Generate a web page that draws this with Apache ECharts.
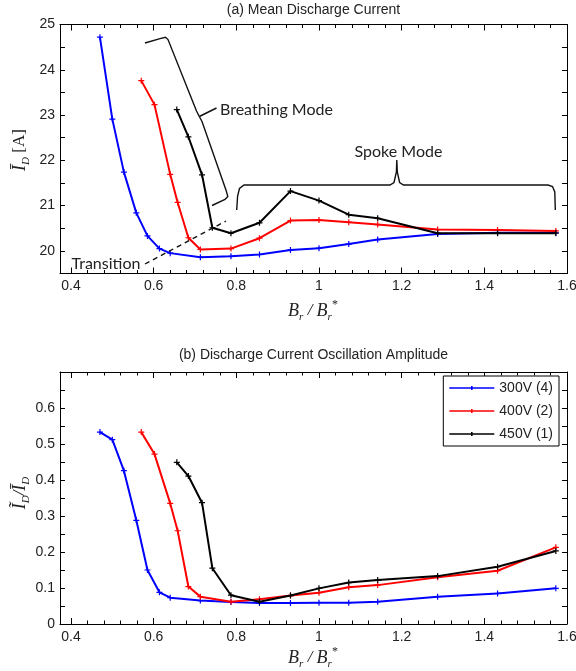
<!DOCTYPE html>
<html><head><meta charset="utf-8">
<script src="https://cdn.jsdelivr.net/npm/echarts@6/dist/echarts.min.js"></script>
<style>html,body{margin:0;padding:0;background:#fff}#c{width:576px;height:671px}</style>
</head><body><div id="c"></div>
<script>
// ---- data ----
const seriesNames = ['300V (4)', '400V (2)', '450V (1)'];
const xBlue  = [0.470,0.500,0.528,0.558,0.585,0.614,0.640,0.713,0.787,0.856,0.931,1.000,1.072,1.142,1.287,1.432,1.573];
const meanBlue = [24.72,22.91,21.74,20.84,20.33,20.05,19.95,19.86,19.88,19.92,20.02,20.06,20.15,20.25,20.37,20.40,20.40];
const ampBlue  = [0.533,0.512,0.426,0.288,0.150,0.088,0.073,0.065,0.061,0.058,0.058,0.059,0.059,0.062,0.076,0.085,0.099];
const xRed   = [0.570,0.602,0.640,0.658,0.684,0.713,0.787,0.856,0.931,1.000,1.072,1.142,1.287,1.432,1.573];
const meanRed  = [23.76,23.23,21.69,21.07,20.29,20.03,20.05,20.28,20.67,20.68,20.63,20.58,20.47,20.46,20.44];
const ampRed   = [0.533,0.472,0.335,0.259,0.104,0.076,0.062,0.069,0.079,0.087,0.102,0.108,0.130,0.148,0.213];
const xBlack = [0.656,0.684,0.717,0.742,0.787,0.856,0.931,1.000,1.072,1.142,1.287,1.432,1.573];
const meanBlack = [23.12,22.52,21.68,20.51,20.39,20.62,21.32,21.11,20.80,20.72,20.39,20.39,20.39];
const ampBlack  = [0.449,0.411,0.337,0.155,0.080,0.062,0.079,0.099,0.115,0.122,0.133,0.159,0.203];

const xMajorTicks = [0.4,0.6,0.8,1.0,1.2,1.4,1.6];
const xMinorTicks = [0.44,0.48,0.52,0.56,0.64,0.68,0.72,0.76,0.84,0.88,0.92,0.96,1.04,1.08,1.12,1.16,1.24,1.28,1.32,1.36,1.44,1.48,1.52,1.56];
const meanTickLabels = [20,21,22,23,24,25];
const ampTickLabels = [0,0.1,0.2,0.3,0.4,0.5,0.6];
const ampTicks = [0,0.05,0.1,0.15,0.2,0.25,0.3,0.35,0.4,0.45,0.5,0.55,0.6,0.65,0.7];

const colors = ['#0000ff', '#ff0000', '#000000'];
const XMIN = 0.3734, XMAX = 1.6;

const chart = echarts.init(document.getElementById('c'), null, {renderer: 'canvas'});
const lbl = {fontFamily: 'Liberation Sans', fontSize: 14, color: '#222'};
const axLine = {show: true, onZero: false, lineStyle: {color: '#000', width: 1}};
const noLine = {show: false, onZero: false};

function tick(len, vals) {
  const t = {show: true, inside: true, length: len, lineStyle: {color: '#000', width: 1}};
  if (vals) t.customValues = vals;
  return t;
}

function xAxes(grid) {
  const base = {type: 'value', gridIndex: grid, min: XMIN, max: XMAX, splitLine: {show: false}};
  return [
    Object.assign({}, base, {position: 'bottom', axisLine: axLine, axisTick: tick(6, xMajorTicks),
      axisLabel: Object.assign({show: true, customValues: xMajorTicks, margin: 6}, lbl)}),
    Object.assign({}, base, {position: 'bottom', axisLine: noLine, axisTick: tick(3.5, xMinorTicks), axisLabel: {show: false}}),
    Object.assign({}, base, {position: 'top', axisLine: axLine, axisTick: tick(6, xMajorTicks), axisLabel: {show: false}}),
    Object.assign({}, base, {position: 'top', axisLine: noLine, axisTick: tick(3.5, xMinorTicks), axisLabel: {show: false}})
  ];
}

const yAxes = [
  {type: 'value', gridIndex: 0, position: 'left', min: 19.5, max: 25, interval: 0.5, splitLine: {show: false},
   axisLine: axLine, axisTick: tick(5),
   axisLabel: Object.assign({show: true, customValues: meanTickLabels, margin: 5}, lbl)},
  {type: 'value', gridIndex: 0, position: 'right', min: 19.5, max: 25, interval: 0.5, splitLine: {show: false},
   axisLine: axLine, axisTick: tick(5), axisLabel: {show: false}},
  {type: 'value', gridIndex: 1, position: 'left', min: 0, max: 0.7, splitLine: {show: false},
   axisLine: axLine, axisTick: tick(5, ampTicks),
   axisLabel: Object.assign({show: true, customValues: ampTickLabels, margin: 5}, lbl)},
  {type: 'value', gridIndex: 1, position: 'right', min: 0, max: 0.7, splitLine: {show: false},
   axisLine: axLine, axisTick: tick(5, ampTicks), axisLabel: {show: false}}
];

function zip(xs, ys) { return xs.map((x, i) => [x, ys[i]]); }
const topData = [zip(xBlue, meanBlue), zip(xRed, meanRed), zip(xBlack, meanBlack)];
const botData = [zip(xBlue, ampBlue), zip(xRed, ampRed), zip(xBlack, ampBlack)];

const plusSymbol = 'path://M-0.6,-3H0.6V-0.6H3V0.6H0.6V3H-0.6V0.6H-3V-0.6H-0.6Z';
const series = [];
[[0, 0], [4, 2]].forEach(([xi, yi], g) => {
  const src = g === 0 ? topData : botData;
  [0,1,2].forEach(i => {
    series.push({name: seriesNames[i], type: 'line', xAxisIndex: xi, yAxisIndex: yi, data: src[i],
      color: colors[i], lineStyle: {width: 2, color: colors[i]}, symbol: plusSymbol, symbolSize: 6,
      itemStyle: {color: colors[i], borderWidth: 0}, animation: false, z: 3 + i});
  });
});

const serif = 'Liberation Serif';
const ann = {stroke: '#111', lineWidth: 1.4, fill: null};
const xNameRich = {
  b: {fontFamily: serif, fontStyle: 'italic', fontSize: 18, lineHeight: 24, fill: '#222'},
  s: {fontFamily: serif, fontStyle: 'italic', fontSize: 11, lineHeight: 12, verticalAlign: 'bottom', fill: '#222'},
  p: {fontFamily: serif, fontSize: 12, lineHeight: 12, verticalAlign: 'top', fill: '#222'},
  n: {fontFamily: serif, fontStyle: 'italic', fontSize: 17, lineHeight: 24, fill: '#222'}
};
const yNameRich = {
  i: {fontFamily: serif, fontStyle: 'italic', fontSize: 18, lineHeight: 24, fill: '#222'},
  s: {fontFamily: serif, fontStyle: 'italic', fontSize: 11, lineHeight: 12, verticalAlign: 'bottom', fill: '#222'},
  n: {fontFamily: serif, fontSize: 17, lineHeight: 24, fill: '#222'},
  m: {fontFamily: serif, fontStyle: 'italic', fontSize: 17, lineHeight: 24, fill: '#222'}
};

const graphic = [
  {type: 'text', x: 313.5, y: 10, style: {text: '(a) Mean Discharge Current', font: '14px "Liberation Sans"', fill: '#222', align: 'center', verticalAlign: 'middle'}},
  {type: 'text', x: 313.5, y: 355, style: {text: '(b) Discharge Current Oscillation Amplitude', font: '14px "Liberation Sans"', fill: '#222', align: 'center', verticalAlign: 'middle'}},
  {type: 'text', x: 313, y: 311, style: {text: '{b|B}{s|r}{n| / }{b|B}{s|r}{p|*}', align: 'center', verticalAlign: 'middle', rich: xNameRich}},
  {type: 'text', x: 313, y: 658, style: {text: '{b|B}{s|r}{n| / }{b|B}{s|r}{p|*}', align: 'center', verticalAlign: 'middle', rich: xNameRich}},
  {type: 'text', x: 20, y: 150, rotation: Math.PI / 2, style: {text: '{i|Ī}{s|D}{n| [A]}', align: 'center', verticalAlign: 'middle', rich: yNameRich}},
  {type: 'text', x: 20, y: 493, rotation: Math.PI / 2, style: {text: '{i|Ĩ}{s|D}{m|/}{i|Ī}{s|D}', align: 'center', verticalAlign: 'middle', rich: yNameRich}},
  // annotations
  {type: 'polyline', z: 20, shape: {points: [[145,43],[160,38.6],[165.5,37.2],[168,39.6],[196.5,111],[199.3,116.5]]}, style: ann},
  {type: 'polyline', z: 20, shape: {points: [[199.3,116.5],[216.5,108]]}, style: ann},
  {type: 'polyline', z: 20, shape: {points: [[199.3,116.5],[202,121.5],[226.3,191],[227.8,196.5],[225,199.5],[212,205.5]]}, style: ann},
  {type: 'text', z: 20, x: 220, y: 109.5, style: {text: 'Breathing Mode', font: '16px Lato', fill: '#222', align: 'left', verticalAlign: 'middle'}},
  {type: 'polyline', z: 20, shape: {points: [[236.7,210],[237.6,196],[239.5,188.5],[244,185],[390,185],[394,182.5],[396.4,172],[396.8,160],[397.3,172],[399.6,182.5],[403.5,185],[548,185],[552.5,186.5],[554.8,192],[555.3,210]]}, style: ann},
  {type: 'text', z: 20, x: 398.5, y: 152, style: {text: 'Spoke Mode', font: '16px Lato', fill: '#222', align: 'center', verticalAlign: 'middle'}},
  {type: 'line', z: 20, shape: {x1: 145, y1: 264, x2: 226, y2: 221}, style: {stroke: '#111', lineWidth: 1.4, lineDash: [5, 4]}},
  {type: 'text', z: 20, x: 71.5, y: 263.5, style: {text: 'Transition', font: '16px Lato', fill: '#222', align: 'left', verticalAlign: 'middle'}}
];

// legend icon: thin line with a small dot; two tiny corner squares fix the bounding box to 45x14
const legendIcon = 'path://M0,0H0.02V0.02H0Z M44.98,13.98H45V14H44.98Z M0,6.3H45V7.7H0Z M20.5,6.2H24.5V7.8H20.5Z M21.7,5H23.3V9H21.7Z';

chart.setOption({
  animation: false,
  backgroundColor: '#fff',
  grid: [
    {left: 60, top: 24.5, width: 507, height: 249, outerBoundsMode: 'none'},
    {left: 60, top: 372, width: 507, height: 252, outerBoundsMode: 'none'}
  ],
  xAxis: xAxes(0).concat(xAxes(1)),
  yAxis: yAxes,
  legend: {data: seriesNames.map(n => ({name: n, icon: legendIcon})), orient: 'vertical', right: 17, top: 376,
    itemWidth: 45, itemHeight: 14, itemGap: 9, symbolKeepAspect: false,
    itemStyle: {borderWidth: 0},
    padding: [5, 6, 5, 6], borderColor: '#000', borderWidth: 1, backgroundColor: '#fff',
    textStyle: {fontFamily: 'Liberation Sans', fontSize: 14, color: '#222'}},
  series: series,
  graphic: graphic
});
</script></body></html>
